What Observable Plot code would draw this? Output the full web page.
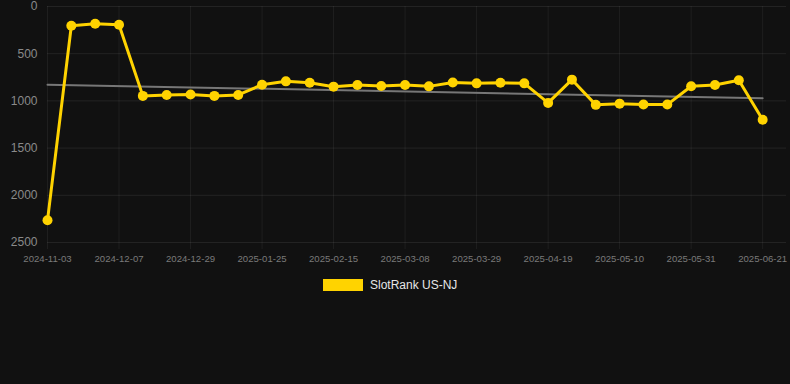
<!DOCTYPE html>
<html>
<head>
<meta charset="utf-8">
<script src="https://cdn.jsdelivr.net/npm/d3@7"></script>
<script src="https://cdn.jsdelivr.net/npm/@observablehq/plot@0.6"></script>
<style>
  html, body { margin: 0; padding: 0; background: #111111; }
  #wrap { position: relative; width: 790px; height: 384px; background: #111111; font-family: Arial, "Liberation Sans", sans-serif; }
  #chart svg { overflow: visible; }
  #legend { position: absolute; left: 323px; top: 278px; display: flex; align-items: center; }
  #legend .sw { width: 40px; height: 12px; background: #FFD300; margin-right: 7px; }
  #legend .lb { color: #e6e6e6; font-size: 12px; }
</style>
</head>
<body>
<div id="wrap"><div id="chart"></div><div id="legend"><div class="sw"></div><div class="lb">SlotRank US-NJ</div></div></div>
<script>
// Category labels (only every third is visible in the reference; the rest are estimated)
const dates = [
  "2024-11-03","2024-11-16","2024-11-23","2024-12-07","2024-12-14","2024-12-21",
  "2024-12-29","2025-01-04","2025-01-11","2025-01-25","2025-02-01","2025-02-08",
  "2025-02-15","2025-02-22","2025-03-01","2025-03-08","2025-03-15","2025-03-22",
  "2025-03-29","2025-04-05","2025-04-12","2025-04-19","2025-04-26","2025-05-03",
  "2025-05-10","2025-05-17","2025-05-24","2025-05-31","2025-06-07","2025-06-14",
  "2025-06-21"
];
// SlotRank US-NJ values (rank, lower is better)
const ranks = [
  2265, 204, 183, 193, 947, 937, 933, 947, 937, 828, 793, 807,
  849, 831, 842, 831, 846, 805, 814, 807, 814, 1021, 775, 1042,
  1029, 1039, 1039, 845, 831, 782, 1200
];
// Trend line end values
const trendValues = [828, 972];
const yTicks = [0, 500, 1000, 1500, 2000, 2500];

const data = dates.map((d, i) => ({ i, date: d, rank: ranks[i] }));
const tickIdx = dates.map((d, i) => i).filter(i => i % 3 === 0);
const trend = [{ i: 0, v: trendValues[0] }, { i: dates.length - 1, v: trendValues[1] }];

const chart = Plot.plot({
  width: 790,
  height: 268,
  marginLeft: 47,
  marginRight: 4,
  marginTop: 6,
  marginBottom: 26,
  style: { background: "#111111", color: "#888", fontFamily: "Arial, 'Liberation Sans', sans-serif", overflow: "visible" },
  x: { type: "linear", domain: [0, dates.length] },
  y: { domain: [0, 2500], reverse: true },
  marks: [
    Plot.gridY(yTicks, { stroke: "#ffffff", strokeOpacity: 0.08, strokeWidth: 1 }),
    Plot.gridX(tickIdx, { stroke: "#ffffff", strokeOpacity: 0.06, strokeWidth: 1 }),
    Plot.axisY(yTicks, { tickSize: 0, tickPadding: 10, fontSize: 12, fill: "#8a8a8a", tickFormat: d => String(d), label: null }),
    Plot.axisX(tickIdx, { tickSize: 7, tickPadding: 6, fontSize: 9.6, fill: "#7a7a7a", stroke: "#ffffff", strokeOpacity: 0.06, tickFormat: i => dates[i], label: null }),
    Plot.line(trend, { x: "i", y: "v", stroke: "#777777", strokeWidth: 2 }),
    Plot.line(data, { x: "i", y: "rank", stroke: "#FFD300", strokeWidth: 3 }),
    Plot.dot(data, { x: "i", y: "rank", fill: "#FFD300", r: 5 })
  ]
});
document.getElementById("chart").appendChild(chart);
</script>
</body>
</html>
